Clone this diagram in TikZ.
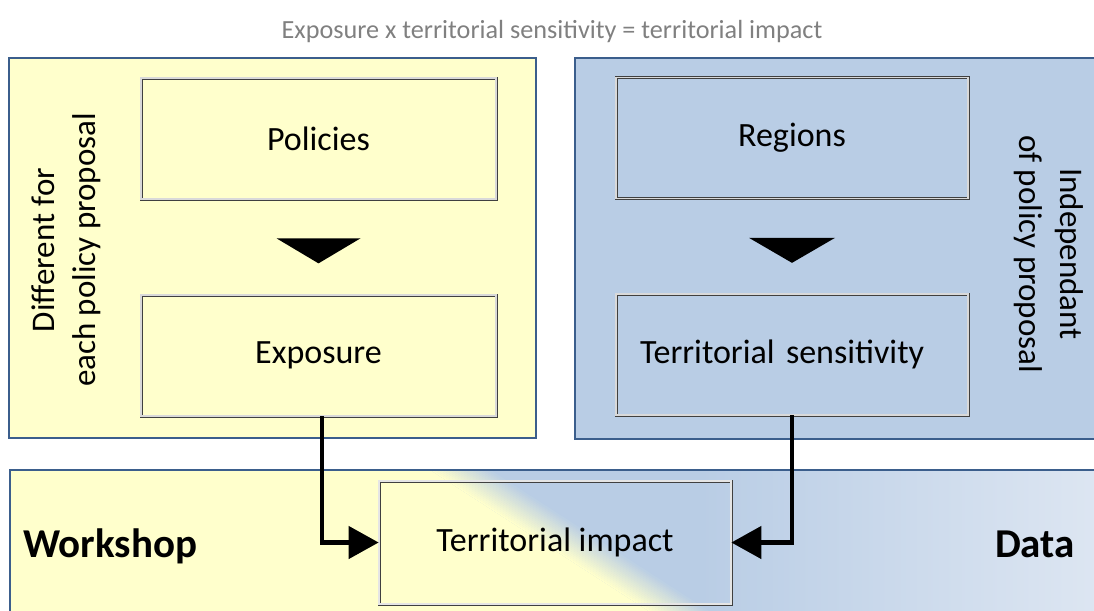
\documentclass[tikz,border=0pt]{standalone}
\usepackage{fontspec}
\setmainfont{Carlito}
\usetikzlibrary{arrows.meta,calc}

\definecolor{yel}{HTML}{FFFFCC}
\definecolor{blu}{HTML}{B9CDE5}
\definecolor{pale}{HTML}{DDE6F2}
\definecolor{panelline}{HTML}{3B5E8C}
\definecolor{titlegray}{HTML}{808080}

\begin{document}
\begin{tikzpicture}[x=1pt,y=-1pt]

\tikzstyle{bx} = [draw=black!75, double=white!85!black, double distance=1.6pt, line width=0.7pt, minimum width=355pt, minimum height=121pt, inner sep=0pt, font=\fontsize{34}{40}\selectfont]
\tikzstyle{pnl} = [draw=panelline, line width=1.5pt]
\tikzstyle{lbl} = [font=\fontsize{33}{41}\selectfont, align=center, inner sep=0pt]
\tikzstyle{big} = [font=\fontsize{41}{48}\selectfont\bfseries, inner sep=0pt]
\tikzstyle{conn} = [line width=4.5pt, -{Triangle[length=30pt,width=32pt]}]

\useasboundingbox (0,0) rectangle (1094,610);

% title line
\node[font=\fontsize{26.2}{30}\selectfont, text=titlegray, anchor=base, inner sep=0pt] (title) at (552,39)
  {Exposure x territorial sensitivity = territorial impact};

% the two upper panels
\draw[pnl, fill=yel] (9,58) rectangle (536,438);
\draw[pnl, fill=blu] (575,58) rectangle (1100,439);

% lower band: blue fading out to the right, yellow on the left
\fill[blu] (10,470) rectangle (1100,612);
\shade[left color=blu, right color=pale] (700,470) rectangle (1100,612);
\fill[yel] (10,470) -- (430,470) -- (650,612) -- (10,612) -- cycle;
\foreach \i [evaluate=\i as \p using 100-5*\i] in {0,...,19}
  \fill[yel!\p!blu] (430+3*\i,470) -- ++(3.6,0) -- ++(220,142) -- ++(-3.6,0) -- cycle;
\draw[pnl] (10,612) |- (1100,470);

% left column
\node[bx, fill=yel] (pol) at (318.5,138.5) {Policies};
\node[bx, fill=yel] (expo) at (318.5,355.5) {Exposure};
\fill ($(pol.south)+(-42,39)$) -- ++(84,0) -- ++(-42,25) -- cycle;
\node[lbl, rotate=90] (diff) at (66,250) {Different for\\each policy proposal};

% right column
\node[bx, fill=blu, minimum width=352pt] (reg) at (792,138) {Regions};
\node[bx, fill=blu, minimum width=352pt, text width=304pt, align=left] (sens) at (792,354.5) {Territorial sensitivity};
\fill ($(reg.south)+(-43,39)$) -- ++(86,0) -- ++(-43,25) -- cycle;
\node[lbl, rotate=-90] (indep) at (1049,254) {Independant\\of policy proposal};

% bottom row
\node[bx, minimum width=352pt, minimum height=123pt, double=white!90!black] (timp) at (555,542.5) {Territorial impact};
\node[big, anchor=base west] (work) at (23,557) {Workshop};
\node[big, anchor=base east] (data) at (1075,557) {Data};

\draw[conn] ([xshift=3.5pt]expo.south) |- (timp.west);
\draw[conn] (sens.south) |- (timp.east);

\end{tikzpicture}
\end{document}
